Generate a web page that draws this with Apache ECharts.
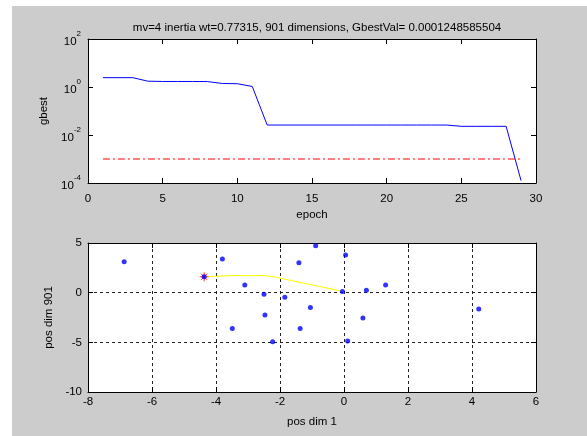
<!DOCTYPE html>
<html>
<head>
<meta charset="utf-8">
<script src="https://cdn.jsdelivr.net/npm/echarts@6/dist/echarts.min.js"></script>
<style>
html,body{margin:0;padding:0;background:#fff;}
#main{width:587px;height:436px;}
</style>
</head>
<body>
<div id="main"></div>
<script>
// top plot: gbest per epoch
var epochs = [1,2,3,4,5,6,7,8,9,10,11,12,13,14,15,16,17,18,19,20,21,22,23,24,25,26,27,28,29];
var gbest = [2.45,2.45,2.45,1.75,1.7,1.7,1.7,1.68,1.4,1.37,1.05,0.026,0.026,0.026,0.026,0.026,0.026,0.026,0.026,0.026,0.026,0.026,0.026,0.026,0.023,0.023,0.023,0.023,0.000125];
var goalEpochs = [1, 29];
var goalVals = [0.001, 0.001];

// bottom plot: particle positions
var posDim1 = [-6.87,-3.8,-4.37,-3.1,-2.5,-1.85,-2.47,-3.49,-2.23,-1.41,-0.885,0.05,1.3,0.7,-0.05,-1.05,0.59,-1.37,0.115,4.21];
var posDim901 = [3.1,3.4,1.6,0.77,-0.17,-0.47,-2.25,-3.6,-4.94,3.0,4.73,3.79,0.77,0.24,0.13,-1.5,-2.55,-3.6,-4.87,-1.65];
var trailX = [-4.37,-3.5,-2.5,-2.2,-1.4,-0.05];
var trailY = [1.6,1.72,1.72,1.6,1.05,0.13];
var bestX = [-4.37];
var bestY = [1.6];

var FONT = 'Liberation Sans';
function zip(a,b){ return a.map(function(v,i){ return [v,b[i]]; }); }

var lineStyle = {color:'#000',width:1};
function frameAxis(gridIndex, pos, extra){
	var ax = {
		gridIndex: gridIndex,
		position: pos,
		type: 'value',
		axisLine: {show:true, onZero:false, lineStyle:lineStyle},
		axisTick: {show:true, inside:true, length:5, lineStyle:lineStyle},
		axisLabel: {show:false},
		splitLine: {show:false}
	};
	for (var k in extra) ax[k] = extra[k];
	return ax;
}
var dashed = {show:true, showMinLine:false, showMaxLine:false, lineStyle:{color:'#222',type:[3,3],width:1}};
var lbl = {color:'#000', fontFamily:FONT, fontSize:11.5};
var nameStyle = {color:'#000', fontFamily:FONT, fontSize:11.5};

var chart = echarts.init(document.getElementById('main'));
var option = {
	backgroundColor: '#cccccc',
	animation: false,
	graphic: [
		{type:'rect', shape:{x:0,y:0,width:12,height:436}, style:{fill:'#fff'}, silent:true},
		{type:'rect', shape:{x:0,y:0,width:587,height:6}, style:{fill:'#fff'}, silent:true}
	],
	title: {
		text: 'mv=4 inertia wt=0.77315, 901 dimensions, GbestVal= 0.0001248585504',
		left: 312, top: 17, textAlign: 'center',
		textStyle: {color:'#000', fontFamily:FONT, fontSize:11.5, fontWeight:'normal'}
	},
	grid: [
		{left:88, top:39, width:448, height:144, show:true, backgroundColor:'#fff', borderWidth:0},
		{left:88, top:243, width:448, height:149, show:true, backgroundColor:'#fff', borderWidth:0}
	],
	xAxis: [
		frameAxis(0,'bottom',{min:0,max:30,interval:5,
			axisLabel:{show:true,margin:10,color:lbl.color,fontFamily:FONT,fontSize:11.5},
			name:'epoch',nameLocation:'middle',nameGap:26,nameTextStyle:nameStyle}),
		frameAxis(0,'top',{min:0,max:30,interval:5}),
		frameAxis(1,'bottom',{min:-8,max:6,interval:2,splitLine:dashed,
			axisLabel:{show:true,margin:4,color:lbl.color,fontFamily:FONT,fontSize:11.5},
			name:'pos dim 1',nameLocation:'middle',nameGap:24,nameTextStyle:nameStyle}),
		frameAxis(1,'top',{min:-8,max:6,interval:2})
	],
	yAxis: [
		frameAxis(0,'left',{type:'log',logBase:10,min:0.0001,max:100,interval:2,
			axisLabel:{show:true,margin:7,
				formatter:function(v){ return '{b|10}{s|' + Math.round(Math.log10(v)) + '}'; },
				rich:{
					b:{color:'#000',fontFamily:FONT,fontSize:11.5,lineHeight:18,verticalAlign:'bottom'},
					s:{color:'#000',fontFamily:FONT,fontSize:8,lineHeight:18,verticalAlign:'top'}
				}},
			name:'gbest',nameLocation:'middle',nameGap:37,nameTextStyle:nameStyle}),
		frameAxis(0,'right',{type:'log',logBase:10,min:0.0001,max:100,interval:2}),
		frameAxis(1,'left',{min:-10,max:5,interval:5,splitLine:dashed,
			axisLabel:{show:true,margin:6,color:lbl.color,fontFamily:FONT,fontSize:11.5},
			name:'pos dim 901',nameLocation:'middle',nameGap:30,nameTextStyle:nameStyle}),
		frameAxis(1,'right',{min:-10,max:5,interval:5})
	],
	series: [
		{type:'line', xAxisIndex:0, yAxisIndex:0, data:zip(epochs,gbest), symbol:'none',
			lineStyle:{color:'#0000ff',width:1}},
		{type:'line', xAxisIndex:0, yAxisIndex:0, data:zip(goalEpochs,goalVals), symbol:'none',
			lineStyle:{color:'#ff0000',width:1,type:[7,3,2,3]}},
		{type:'line', xAxisIndex:2, yAxisIndex:2, data:zip(trailX,trailY), symbol:'none',
			lineStyle:{color:'#ffff00',width:1}},
		{type:'scatter', xAxisIndex:2, yAxisIndex:2, data:zip(bestX,bestY), z:3,
			symbol:'path://M0,-1L0,1M-1,0L1,0M-0.7,-0.7L0.7,0.7M-0.7,0.7L0.7,-0.7',
			symbolSize:9, itemStyle:{color:'none',borderColor:'#ff0000',borderWidth:1}},
		{type:'scatter', xAxisIndex:2, yAxisIndex:2, data:zip(posDim1,posDim901), z:4,
			symbol:'circle', symbolSize:5, itemStyle:{color:'#0000ff'}}
	]
};
chart.setOption(option);
</script>
</body>
</html>
